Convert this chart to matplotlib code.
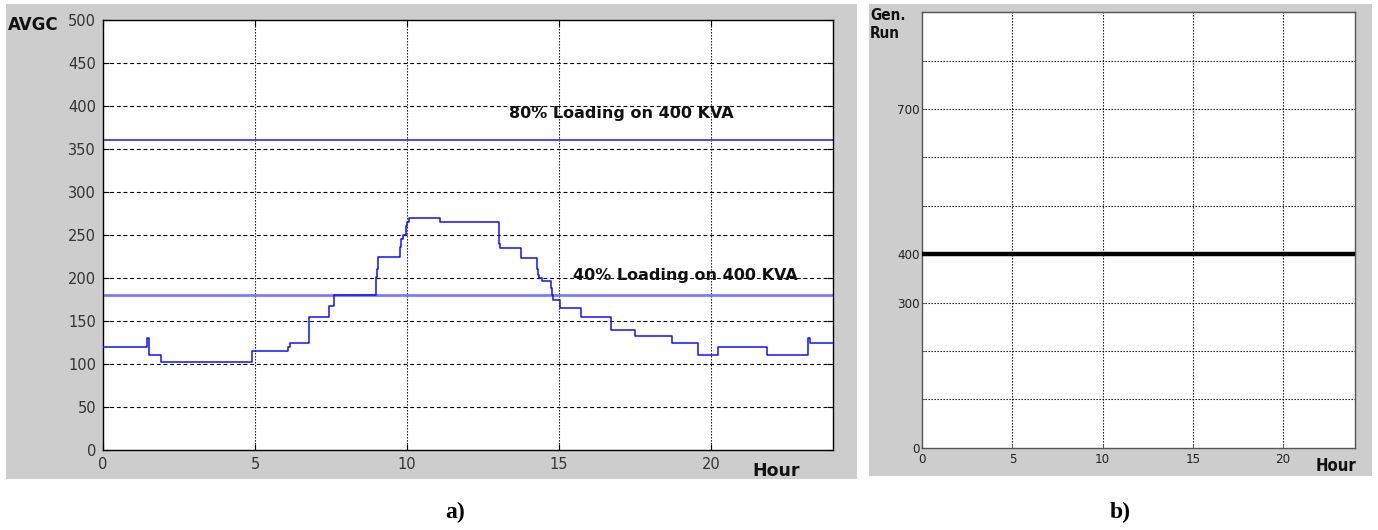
import matplotlib
matplotlib.use("Agg")
import matplotlib.pyplot as plt
from matplotlib.patches import Rectangle
from matplotlib import font_manager

# ---------------- data ----------------
# panel a) AVGC step profile (change times in hours, value held until next time)
step_hours = [0, 1.45, 1.5, 1.92, 4.9, 6.1, 6.15, 6.78, 7.45, 7.6, 8.98, 9.02, 9.05,
              9.77, 9.82, 9.86, 9.96, 10.0, 10.06, 11.08, 13.03, 13.06, 13.74,
              14.27, 14.3, 14.35, 14.43, 14.73, 14.77, 14.8, 15.03, 15.74, 16.71,
              17.5, 18.73, 19.59, 20.22, 21.85, 23.2, 23.25, 24]
step_values = [120, 130, 110, 102, 115, 120, 125, 155, 167, 180, 201, 210, 224,
               236, 245, 250, 260, 265, 270, 265, 240, 235, 223,
               210, 203, 200, 197, 188, 180, 174, 165, 155, 140,
               133, 125, 110, 120, 110, 130, 125, 125]
loading_levels = [360, 180]
loading_labels = ["80% Loading on 400 KVA", "40% Loading on 400 KVA"]
left_yticks = [0, 50, 100, 150, 200, 250, 300, 350, 400, 450, 500]
left_xticks = [0, 5, 10, 15, 20]

# panel b) generator run
gen_hours = [0, 24]
gen_values = [400, 400]
right_yticks = [0, 100, 200, 300, 400, 500, 600, 700, 800, 900]
right_ytick_labels = ["0", "", "", "300", "400", "", "", "700", "", ""]
right_xticks = [0, 5, 10, 15, 20]

W, H = 1378, 530
fig = plt.figure(figsize=(W / 100, H / 100), dpi=100)
fig.patch.set_facecolor("white")

def px_rect(x0, y0, x1, y1):
    return [x0 / W, (H - y1) / H, (x1 - x0) / W, (y1 - y0) / H]

grey = "#cdcdcd"
for (x0, y0, x1, y1) in [(6, 4, 857, 479), (869, 4, 1372, 476)]:
    r = px_rect(x0, y0, x1, y1)
    fig.add_artist(Rectangle((r[0], r[1]), r[2], r[3], transform=fig.transFigure,
                             facecolor=grey, edgecolor="none", zorder=0))

# narrow font for panel b
names = {f.name for f in font_manager.fontManager.ttflist}
if "Liberation Sans Narrow" in names:
    narrow_kw = dict(family="Liberation Sans Narrow")
else:
    narrow_kw = dict(family="DejaVu Sans", stretch="condensed")

# ---------------- panel a ----------------
ax = fig.add_axes(px_rect(103, 20, 832.5, 450))
ax.set_facecolor("white")
ax.set_xlim(0, 24)
ax.set_ylim(0, 500)
ax.set_xticks(left_xticks)
ax.set_yticks(left_yticks)
ax.tick_params(direction="in", length=4, width=0.8, labelsize=10.5,
               labelcolor="#333333", color="black", top=True, right=True)
ax.tick_params(axis="y", pad=5)
ax.tick_params(axis="x", pad=5)
for t in ax.get_xticklabels() + ax.get_yticklabels():
    t.set_family("DejaVu Sans")
for s in ax.spines.values():
    s.set_color("black")
    s.set_linewidth(1.0)
for y in left_yticks[1:-1]:
    ax.axhline(y, color="black", lw=0.8, ls=(0, (3.5, 2.5)), zorder=1)
for x in left_xticks[1:]:
    ax.axvline(x, color="black", lw=0.8, ls=(0, (1.2, 1.5)), zorder=1)

ax.axhline(loading_levels[0], color="#3a3aff", lw=1.3, zorder=2)
ax.axhline(loading_levels[1], color="#7a7aff", lw=2.0, zorder=2)
ax.step(step_hours, step_values, where="post", color="#1010ff", lw=1.1, zorder=3)

ax.text(13.37, 391, loading_labels[0], fontsize=11.5, fontweight="bold",
        family="DejaVu Sans", color="#111111", va="center", ha="left", zorder=4)
ax.text(15.45, 203, loading_labels[1], fontsize=11.5, fontweight="bold",
        family="DejaVu Sans", color="#111111", va="center", ha="left", zorder=4)

fig.text(8 / W, 1 - 25 / H, "AVGC", fontsize=12, fontweight="bold",
         family="DejaVu Sans", color="#111111", ha="left", va="center")
fig.text(776 / W, 1 - 471 / H, "Hour", fontsize=12.5, fontweight="bold",
         family="DejaVu Sans", color="#111111", ha="center", va="center")

# ---------------- panel b ----------------
bx = fig.add_axes(px_rect(922.3, 12.3, 1355, 447.7))
bx.set_facecolor("white")
bx.set_xlim(0, 24)
bx.set_ylim(0, 900)
bx.set_xticks(right_xticks)
bx.set_yticks(right_yticks)
bx.set_yticklabels(right_ytick_labels)
bx.tick_params(direction="in", length=3, width=0.6, labelsize=9.5,
               labelcolor="#222222", color="#555555")
bx.tick_params(axis="y", pad=2)
bx.tick_params(axis="x", pad=4)
for t in bx.get_xticklabels() + bx.get_yticklabels():
    t.set(**narrow_kw)
for s in bx.spines.values():
    s.set_color("#555555")
    s.set_linewidth(1.0)
for y in right_yticks[1:]:
    bx.axhline(y, color="black", lw=0.8, ls=(0, (1.2, 1.5)), zorder=1, clip_on=False)
for x in right_xticks[1:]:
    bx.axvline(x, color="black", lw=0.8, ls=(0, (1.2, 1.5)), zorder=1)

bx.plot(gen_hours, gen_values, color="black", lw=3.2, zorder=3)

fig.text(870 / W, 1 - 25 / H, "Gen.\nRun", fontsize=11, fontweight="bold",
         color="#111111", ha="left", va="center", linespacing=1.25, **narrow_kw)
fig.text(1336 / W, 1 - 466 / H, "Hour", fontsize=12, fontweight="bold",
         color="#111111", ha="center", va="center", **narrow_kw)

# ---------------- captions ----------------
fig.text(455 / W, 1 - 512 / H, "a)", fontsize=17, fontweight="bold",
         family="Liberation Serif", ha="center", va="center")
fig.text(1120 / W, 1 - 512 / H, "b)", fontsize=17, fontweight="bold",
         family="Liberation Serif", ha="center", va="center")

fig.savefig("out.png", dpi=100, facecolor="white")
